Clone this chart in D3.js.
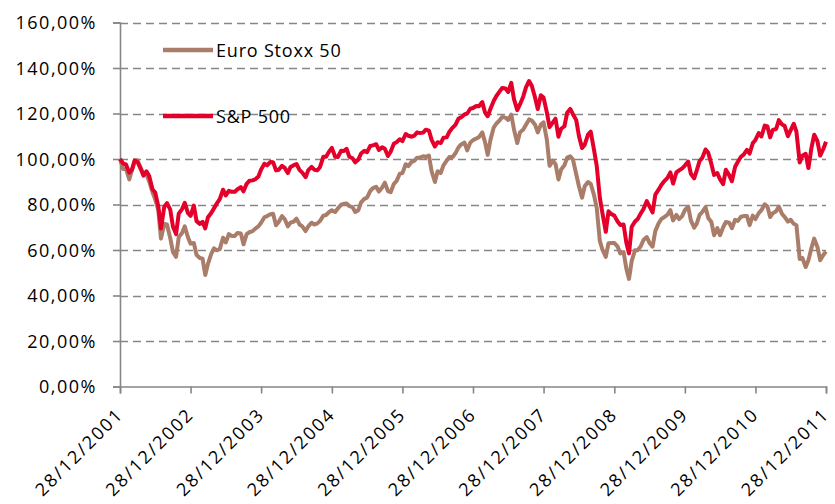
<!DOCTYPE html>
<html><head><meta charset="utf-8">
<script src="https://cdn.jsdelivr.net/npm/d3@7/dist/d3.min.js"></script>
<style>
body{margin:0;background:#fff;}
svg text{font-family:"Open Sans","Noto Sans",sans-serif;fill:#000;}
</style>
</head><body>
<svg id="chart" width="835" height="504"></svg>
<script>
// ---- data (percent of value on 28/12/2001), semi-monthly readings (14th / 28th) ----
const startDate = "2001-12-28";
const endDate = "2011-12-28";
const seriesNames = ["Euro Stoxx 50", "S&P 500"];
const seriesColors = ["#A97D69", "#E4002B"];
const tickLabels = ["28/12/2001","28/12/2002","28/12/2003","28/12/2004","28/12/2005","28/12/2006","28/12/2007","28/12/2008","28/12/2009","28/12/2010","28/12/2011"];
const yTicks = [0,20,40,60,80,100,120,140,160];

const euroStoxx50 = [100.0,
 95.6,95.6,91.0,95.2,99.4,99.4,96.2,93.3,93.3,90.1,85.4,82.3,77.5,65.0,71.5,71.2,65.2,59.1,57.0,65.7,67.5,70.4,65.7,62.8,
 63.1,57.8,56.5,56.2,49.0,53.9,58.3,60.7,59.9,60.4,65.4,63.3,67.0,66.2,66.2,67.5,67.3,62.5,67.0,67.8,68.3,69.4,70.4,72.0,
 74.4,74.9,75.7,75.9,70.9,72.3,74.9,73.6,70.4,72.0,72.5,73.8,71.2,70.4,68.3,70.4,72.0,71.2,71.7,72.8,75.1,75.4,76.7,77.5,
 76.7,78.3,79.9,80.3,80.4,79.3,78.8,76.7,77.5,80.9,82.5,83.0,85.9,87.2,87.8,85.7,87.5,89.6,85.9,85.4,89.1,90.4,93.5,93.8,
 97.7,96.9,98.8,99.2,100.6,100.6,101.2,100.9,101.5,94.6,89.9,94.6,93.8,97.2,99.3,100.9,100.9,102.5,105.1,106.4,107.2,103.8,107.2,108.3,
 109.0,109.6,111.7,107.5,101.8,108.3,113.8,115.6,116.9,118.5,118.2,117.2,119.5,113.0,107.0,111.7,113.0,115.1,117.4,116.9,115.1,111.7,115.1,116.1,
 108.5,97.0,99.3,97.7,91.0,95.4,97.2,100.6,101.2,99.8,93.3,88.0,83.0,88.0,89.9,89.1,84.1,78.5,64.0,60.0,57.0,63.0,63.1,63.1,
 61.5,58.5,59.1,51.9,47.3,55.2,59.9,59.9,61.7,64.4,65.7,63.1,61.5,68.3,71.7,73.6,74.6,75.4,77.5,73.0,75.4,73.6,74.9,77.5,
 79.1,73.0,69.8,71.7,75.4,76.7,78.8,74.1,72.3,66.5,69.6,66.5,70.0,72.3,72.0,69.6,73.3,72.8,74.6,74.9,74.9,70.9,75.1,73.6,
 76.2,77.5,80.1,79.1,74.5,76.2,77.0,79.1,75.9,74.6,72.5,73.3,71.5,70.9,56.0,56.5,52.5,55.5,61.0,65.0,61.2,55.5,57.8,59.3];

const sp500 = [100.0,
 98.0,97.6,94.0,95.3,99.3,98.8,95.7,92.7,94.6,92.5,86.7,85.3,79.3,69.5,79.0,80.6,77.7,70.2,67.0,76.0,78.0,80.7,76.3,75.0,
 79.5,72.7,71.5,72.4,69.5,74.4,76.3,78.3,80.6,82.4,86.5,84.0,86.0,85.6,85.6,86.7,87.6,85.8,89.1,90.4,90.6,91.1,92.3,95.4,
 97.9,97.2,98.7,98.6,95.0,95.3,97.0,96.1,93.8,96.5,97.3,97.8,95.1,94.0,92.0,95.1,96.5,95.3,95.0,96.5,101.0,101.0,103.3,104.9,
 101.0,100.9,103.6,103.5,104.5,101.0,100.3,98.5,99.8,102.4,103.6,103.0,105.7,106.0,106.5,104.0,105.2,104.5,101.3,103.2,106.8,107.4,108.7,107.9,
 111.0,110.2,109.8,110.3,111.7,111.4,111.6,112.9,112.5,108.4,105.5,107.4,107.0,109.3,109.5,112.0,113.8,115.0,117.8,118.3,119.6,120.0,122.1,122.4,
 123.3,123.2,125.0,120.5,118.8,122.0,125.5,127.7,129.6,131.2,131.0,129.5,133.5,126.3,121.5,124.0,127.5,131.5,134.3,132.2,127.0,122.0,128.0,127.0,
 120.5,114.0,116.1,117.7,109.8,113.3,114.4,120.3,122.0,119.7,117.1,110.1,104.8,106.3,110.7,112.0,104.0,97.0,83.0,76.0,68.0,77.0,75.7,75.1,
 72.5,71.0,71.2,63.3,58.5,70.2,72.5,73.6,76.1,78.0,81.5,79.2,76.5,84.3,86.5,88.6,90.4,91.6,94.1,89.2,94.1,95.0,95.9,97.1,
 98.9,93.5,91.5,95.1,99.1,100.5,104.2,102.7,97.8,93.0,93.8,91.0,89.0,95.3,92.9,90.2,96.6,98.8,101.0,101.9,104.0,102.4,106.9,108.4,
 111.4,109.9,114.7,114.3,109.5,112.8,113.2,117.1,115.2,114.6,110.0,112.6,115.5,112.0,98.5,101.4,102.3,96.0,105.0,110.7,107.8,101.5,104.4,107.6];

// ---- build ----
const parse = d3.timeParse("%Y-%m-%d");
const d0 = parse(startDate), d1 = parse(endDate);
function dateAt(i){
  if(i===0) return d0;
  const k = Math.ceil(i/2);
  return new Date(2001, 11 + k, (i % 2 === 1) ? 14 : 28);
}
const series = [euroStoxx50, sp500].map((vals, s) => ({
  name: seriesNames[s], color: seriesColors[s],
  points: vals.map((v,i) => ({date: dateAt(i), value: v}))
}));

const W = 835, H = 504;
const M = {left:120, right:9, top:22.5, bottom:117.5};
const svg = d3.select("#chart");
const x = d3.scaleTime().domain([d0, d1]).range([M.left, W - M.right]);
const y = d3.scaleLinear().domain([0,160]).range([H - M.bottom, M.top]);

const axisColor = "#868686";
const fmtY = v => d3.format(".2f")(v).replace(".", ",") + "%";

// gridlines
svg.append("g").selectAll("line").data(yTicks.filter(v => v > 0)).join("line")
  .attr("x1", M.left).attr("x2", W - M.right)
  .attr("y1", d => Math.round(y(d)) + 0.5).attr("y2", d => Math.round(y(d)) + 0.5)
  .attr("stroke", "#868686").attr("stroke-width", 1.6).attr("stroke-dasharray", "8,5");

// y axis
const yAxis = svg.append("g").attr("transform", `translate(${M.left},0)`)
  .call(d3.axisLeft(y).tickValues(yTicks).tickSize(7).tickFormat(fmtY));
yAxis.select(".domain").attr("stroke", axisColor).attr("stroke-width", 1.6);
yAxis.selectAll(".tick line").attr("stroke", axisColor).attr("stroke-width", 1.6);
yAxis.selectAll(".tick text").attr("x", -23).attr("dy", "0.36em")
  .style("font-size", "18px").style("letter-spacing", "1.5px");

// x axis
const tickDates = tickLabels.map(t => d3.timeParse("%d/%m/%Y")(t));
const xAxis = svg.append("g").attr("transform", `translate(0,${H - M.bottom})`)
  .call(d3.axisBottom(x).tickValues(tickDates).tickSize(7).tickFormat((d,i) => tickLabels[i]));
xAxis.select(".domain").attr("stroke", axisColor).attr("stroke-width", 1.6);
xAxis.selectAll(".tick line").attr("stroke", axisColor).attr("stroke-width", 1.6);
xAxis.selectAll(".tick text")
  .attr("text-anchor", "end").attr("x", 0).attr("y", 0).attr("dy", 0)
  .attr("transform", "translate(4,29) rotate(-45)")
  .style("font-size", "18px").style("letter-spacing", "2px");

// lines
const line = d3.line().x(d => x(d.date)).y(d => y(d.value));
svg.append("g").selectAll("path").data(series).join("path")
  .attr("d", d => line(d.points))
  .attr("fill", "none").attr("stroke", d => d.color)
  .attr("stroke-width", 4).attr("stroke-linejoin", "round");

// legend
const lg = svg.append("g").selectAll("g").data(series).join("g")
  .attr("transform", (d,i) => `translate(163,${50 + i*66})`);
lg.append("line").attr("x1", 0).attr("x2", 50).attr("y1", 0).attr("y2", 0)
  .attr("stroke", d => d.color).attr("stroke-width", 4.5);
lg.append("text").attr("x", 53).attr("y", 0).attr("dy", "0.38em")
  .style("font-size", "18px").style("letter-spacing", "0.8px").text(d => d.name);
</script>
</body></html>
